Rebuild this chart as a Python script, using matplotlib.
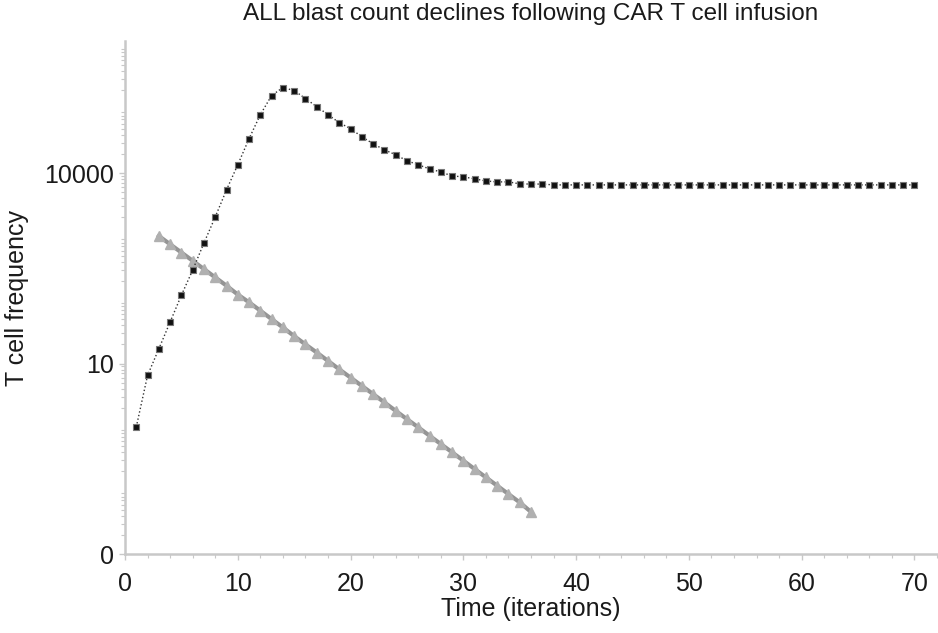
import matplotlib
matplotlib.use("Agg")
import matplotlib.pyplot as plt
from matplotlib.ticker import FixedLocator, LogLocator, NullFormatter, MultipleLocator

plt.rcParams['font.family'] = ['Liberation Sans', 'DejaVu Sans']

# CAR T cells (black squares), iterations 1..70
car_x = list(range(1, 71))
car_y = [1.0, 6.5, 17, 45, 119, 296, 790, 2030, 5430, 13500,
         34700, 83000, 166000, 222000, 199000, 149000, 111000, 83000, 62000, 50000,
         37300, 28900, 23200, 19400, 15600, 13500, 11600, 10400, 9000, 8700,
         8100, 7500, 7250, 7250, 6750, 6700, 6700] + [6500] * 33

# ALL blasts (grey triangles), iterations 3..36
all_x = list(range(3, 37))
all_y = [1020, 755, 560, 415, 307, 227, 168, 122, 92, 68,
         50, 37, 27, 20, 14.9, 11.0, 8.1, 6.0, 4.45, 3.3,
         2.44, 1.8, 1.33, 0.99, 0.73, 0.54, 0.40, 0.295, 0.218, 0.161,
         0.119, 0.088, 0.065, 0.046]

ytick_vals = [0.01, 10, 10000]
ytick_labels = ['0', '10', '10000']

fig = plt.figure(figsize=(9.38, 6.33), dpi=100)
ax = fig.add_axes([125 / 938, 79 / 633, 812 / 938, 513 / 633])

ax.plot(all_x, all_y, color='#959595', lw=3, marker='^', ms=7.5,
        mfc='#b0b0b0', mec='#b0b0b0', zorder=2)
ax.plot(car_x, car_y, color='#333333', lw=1, ls=':', marker='s', ms=5,
        mfc='#111111', mec='#777777', mew=0.8, zorder=3)

ax.set_yscale('log')
ax.set_ylim(0.01, 1.2e6)
ax.set_xlim(0, 72)

ax.yaxis.set_major_locator(FixedLocator(ytick_vals))
ax.set_yticklabels(ytick_labels)
ax.yaxis.set_minor_locator(LogLocator(base=10, subs=range(2, 10), numticks=20))
ax.yaxis.set_minor_formatter(NullFormatter())
ax.xaxis.set_major_locator(MultipleLocator(10))
ax.xaxis.set_minor_locator(MultipleLocator(2))

for s in ['top', 'right']:
    ax.spines[s].set_visible(False)
for s in ['left', 'bottom']:
    ax.spines[s].set_color('#c8c8c8')
    ax.spines[s].set_linewidth(1.8)

ax.tick_params(which='both', color='#c8c8c8', labelsize=18, labelcolor='#1a1a1a')
ax.tick_params(which='major', length=4, width=1)
ax.tick_params(which='minor', length=3, width=0.8)
ax.tick_params(axis='x', pad=9)
ax.tick_params(axis='y', pad=4)

ax.set_title('ALL blast count declines following CAR T cell infusion',
             fontsize=17.5, color='#1a1a1a', pad=15)
ax.set_xlabel('Time (iterations)', fontsize=18, color='#1a1a1a')
ax.set_ylabel('T cell frequency', fontsize=18, color='#1a1a1a')
ax.xaxis.set_label_coords(0.5, -0.083)
ax.yaxis.set_label_coords(-0.118, 0.5)

fig.savefig('out.png', dpi=100)
